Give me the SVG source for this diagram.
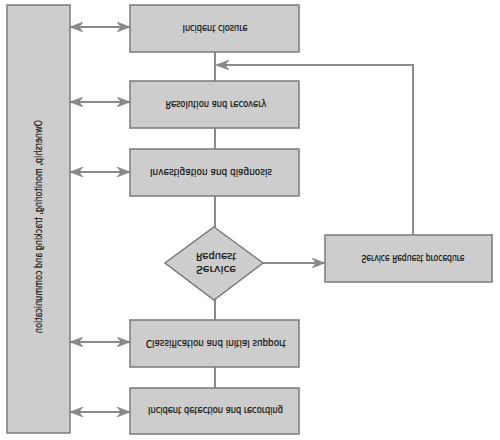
<svg xmlns="http://www.w3.org/2000/svg" width="500" height="440" viewBox="0 0 500 440">
<defs>
<style>
.box{fill:#cdcdcd;stroke:#7a7a7a;stroke-width:1.5}
.ln{fill:none;stroke:#8a8a8a;stroke-width:2}
.t{font-family:"Liberation Sans Narrow","DejaVu Sans Condensed","Liberation Sans",sans-serif;font-size:11px;fill:#111;stroke:#111;stroke-width:0.2;text-anchor:middle}
</style>
<marker id="ah" viewBox="0 0 13 10" refX="12" refY="5" markerWidth="13" markerHeight="10" markerUnits="userSpaceOnUse" orient="auto-start-reverse">
<path d="M0,0 L13,5 L0,10 L4,5 Z" fill="#8a8a8a" stroke="#7a7a7a" stroke-width="0.5"/>
</marker>
</defs>
<rect width="500" height="440" fill="#fff"/>
<g id="connectors">
<path class="ln" d="M215,52 V81 M215,128 V149 M215,196 V227 M215,299 V320 M215,367 V388"/>
<path class="ln" d="M263,263 H324" marker-end="url(#ah)"/>
<path class="ln" d="M413,235 V65 H217" marker-end="url(#ah)"/>
<path class="ln" d="M71,27 H129" marker-start="url(#ah)" marker-end="url(#ah)"/>
<path class="ln" d="M71,102 H129" marker-start="url(#ah)" marker-end="url(#ah)"/>
<path class="ln" d="M71,172 H129" marker-start="url(#ah)" marker-end="url(#ah)"/>
<path class="ln" d="M71,342 H129" marker-start="url(#ah)" marker-end="url(#ah)"/>
<path class="ln" d="M71,412 H129" marker-start="url(#ah)" marker-end="url(#ah)"/>
</g>
<g id="ownership">
<rect class="box" x="7" y="5" width="63" height="428"/>
<text class="t" transform="matrix(0,1,1,0,38,226.5)" x="0" y="4" textLength="213" lengthAdjust="spacingAndGlyphs">Ownership, monitoring, tracking and communication</text>
</g>
<g id="closure">
<rect class="box" x="130" y="5" width="169" height="47"/>
<text class="t" transform="matrix(1,0,0,-1,215,28.5)" x="0" y="4" textLength="65" lengthAdjust="spacingAndGlyphs">Incident closure</text>
</g>
<g id="resolution">
<rect class="box" x="130" y="81" width="169" height="47"/>
<text class="t" transform="matrix(1,0,0,-1,216,104.5)" x="0" y="4" textLength="101" lengthAdjust="spacingAndGlyphs">Resolution and recovery</text>
</g>
<g id="investigation">
<rect class="box" x="130" y="149" width="169" height="47"/>
<text class="t" transform="matrix(1,0,0,-1,211,172.5)" x="0" y="4" textLength="122" lengthAdjust="spacingAndGlyphs">Investigation and diagnosis</text>
</g>
<g id="service-decision">
<polygon class="box" points="214,227 263,263 214,300 165,263"/>
<text class="t" transform="matrix(1,0,0,-1,216,257)" x="0" y="4" textLength="40" lengthAdjust="spacingAndGlyphs">Request</text>
<text class="t" transform="matrix(1,0,0,-1,216,270)" x="0" y="4" textLength="40" lengthAdjust="spacingAndGlyphs">Service</text>
</g>
<g id="classification">
<rect class="box" x="130" y="320" width="169" height="47"/>
<text class="t" transform="matrix(1,0,0,-1,216,343.5)" x="0" y="4" textLength="140" lengthAdjust="spacingAndGlyphs">Classification and initial support</text>
</g>
<g id="detection">
<rect class="box" x="130" y="388" width="169" height="46"/>
<text class="t" transform="matrix(1,0,0,-1,215.5,411)" x="0" y="4" textLength="135" lengthAdjust="spacingAndGlyphs">Incident detection and recording</text>
</g>
<g id="service-request">
<rect class="box" x="325" y="235" width="167" height="47"/>
<text class="t" transform="matrix(1,0,0,-1,413,258.5)" x="0" y="4" textLength="103" lengthAdjust="spacingAndGlyphs">Service Request procedure</text>
</g>
</svg>
